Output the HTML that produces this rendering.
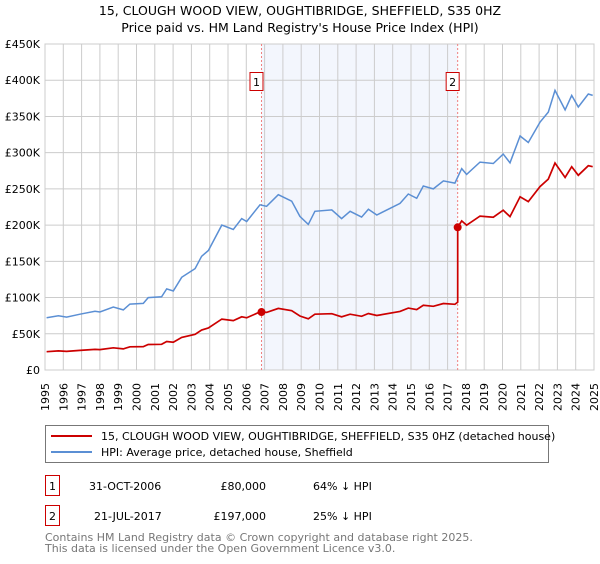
<!DOCTYPE html>
<html><head><meta charset="utf-8"><style>
body{margin:0;background:#fff;font-family:"DejaVu Sans","Liberation Sans",sans-serif;}
svg text{font-family:"DejaVu Sans","Liberation Sans",sans-serif;}
</style></head><body>
<svg id="c" width="600" height="560" xmlns="http://www.w3.org/2000/svg">
<text x="300" y="15" text-anchor="middle" font-size="12.5">15, CLOUGH WOOD VIEW, OUGHTIBRIDGE, SHEFFIELD, S35 0HZ</text>
<text x="300" y="32" text-anchor="middle" font-size="12.5">Price paid vs. HM Land Registry's House Price Index (HPI)</text>
<g id="plot"></g>
<rect x="45.5" y="425.5" width="503" height="37" fill="#fff" stroke="#777"/>
<line x1="51" y1="436" x2="92" y2="436" stroke="#cc0000" stroke-width="2"/>
<text x="101" y="440" font-size="11">15, CLOUGH WOOD VIEW, OUGHTIBRIDGE, SHEFFIELD, S35 0HZ (detached house)</text>
<line x1="51" y1="452" x2="92" y2="452" stroke="#5b8fd4" stroke-width="2"/>
<text x="101" y="456" font-size="11">HPI: Average price, detached house, Sheffield</text>
<rect x="45.5" y="475.5" width="14" height="20" fill="#fff" stroke="#cc0000"/>
<text x="52.5" y="490" text-anchor="middle" font-size="11">1</text>
<text x="89" y="490" font-size="11">31-OCT-2006</text>
<text x="266" y="490" text-anchor="end" font-size="11">£80,000</text>
<text x="313" y="490" font-size="11">64% ↓ HPI</text>
<rect x="45.5" y="505.5" width="14" height="20" fill="#fff" stroke="#cc0000"/>
<text x="52.5" y="520" text-anchor="middle" font-size="11">2</text>
<text x="94" y="520" font-size="11">21-JUL-2017</text>
<text x="266" y="520" text-anchor="end" font-size="11">£197,000</text>
<text x="313" y="520" font-size="11">25% ↓ HPI</text>
<text x="45" y="541" font-size="11" fill="#777">Contains HM Land Registry data © Crown copyright and database right 2025.</text>
<text x="45" y="552" font-size="11" fill="#777">This data is licensed under the Open Government Licence v3.0.</text>
</svg>
<script>
const hpiYears=[1995.09,1995.73,1996.18,1996.91,1997.73,1998.0,1998.73,1999.28,1999.64,2000.37,2000.64,2001.37,2001.65,2002.01,2002.47,2003.2,2003.56,2003.93,2004.66,2005.29,2005.75,2006.02,2006.75,2007.11,2007.75,2008.48,2008.93,2009.39,2009.75,2010.67,2011.21,2011.67,2012.3,2012.67,2013.13,2014.4,2014.85,2015.31,2015.67,2016.22,2016.77,2017.4,2017.77,2018.04,2018.77,2019.5,2020.04,2020.41,2020.96,2021.41,2022.05,2022.5,2022.87,2023.42,2023.78,2024.14,2024.69,2024.93];
const hpiValues=[72,75,73,77,81,80,87,83,91,92,100,101,112,109,128,140,157,165,200,194,209,205,228,226,242,233,212,201,219,221,209,219,211,222,214,230,243,237,254,250,261,258,278,270,287,285,298,286,323,314,342,356,386,359,379,363,381,379];
const saleYears=[2006.83,2017.55];
const salePrices=[80,197];
const saleLabels=["1","2"];
const yTicks=[0,50,100,150,200,250,300,350,400,450];
const yTickLabels=["£0","£50K","£100K","£150K","£200K","£250K","£300K","£350K","£400K","£450K"];
const xTickYears=[];for(let y=1995;y<=2025;y++)xTickYears.push(y);

const X0=45,X1=594,Y0=370,Y1=44;
const xs=t=>X0+(t-1995)/30*(X1-X0);
const ys=v=>Y0-v/450*(Y0-Y1);
const NS="http://www.w3.org/2000/svg";
const g=document.getElementById('plot');
function mk(tag,attrs){const e=document.createElementNS(NS,tag);for(const k in attrs)e.setAttribute(k,attrs[k]);g.appendChild(e);return e;}
function hpiAt(t){for(let i=0;i<hpiYears.length-1;i++){if(t<=hpiYears[i+1]){const f=(t-hpiYears[i])/(hpiYears[i+1]-hpiYears[i]);return hpiValues[i]+f*(hpiValues[i+1]-hpiValues[i]);}}return hpiValues[hpiValues.length-1];}

let e=mk('rect',{x:xs(saleYears[0]),y:Y1,width:xs(saleYears[1])-xs(saleYears[0]),height:Y0-Y1,fill:'#f3f6fd'});


yTicks.forEach((v,i)=>{
 let l=mk('line',{x1:X0,x2:X1,y1:ys(v),y2:ys(v),stroke:'#ccc','stroke-width':1});
 
 
 let t=mk('text',{x:40,y:ys(v)+4,'text-anchor':'end','font-size':11});
 t.textContent=yTickLabels[i];
 
 
});
xTickYears.forEach(y=>{
 let l=mk('line',{x1:xs(y),x2:xs(y),y1:Y1,y2:Y0,stroke:'#ccc','stroke-width':1});
 
 
 let t=mk('text',{x:xs(y)+4,y:383,'text-anchor':'end','font-size':11,transform:`rotate(-90 ${xs(y)+4} 383)`});
 t.textContent=y;
 
 
});
let b=mk('rect',{x:X0,y:Y1,width:X1-X0,height:Y0-Y1,fill:'none',stroke:'#ccc'});


saleYears.forEach((s,i)=>{
 let l=mk('line',{x1:xs(s),x2:xs(s),y1:Y1,y2:Y0,stroke:'#f08080','stroke-dasharray':'2,2','stroke-width':1});
 
 
});
let p=hpiYears.map((t,i)=>(i?'L':'M')+xs(t).toFixed(1)+','+ys(hpiValues[i]).toFixed(1)).join('');
let hl=mk('path',{d:p,fill:'none',stroke:'#5b8fd4','stroke-width':1.5});


const sf=saleYears.map((s,i)=>salePrices[i]/hpiAt(s));
let pts=[];
hpiYears.forEach((t,i)=>{
 if(t>saleYears[1]&&pts.length&&pts[pts.length-1][0]<saleYears[1]){
   pts.push([saleYears[1],hpiAt(saleYears[1])*sf[0]]);pts.push([saleYears[1],salePrices[1]]);}
 if(t>saleYears[0]&&pts.length&&pts[pts.length-1][0]<saleYears[0]){pts.push([saleYears[0],salePrices[0]]);}
 const k=t>saleYears[1]?1:0;
 pts.push([t,hpiValues[i]*sf[k]]);
});
let rp=pts.map((q,i)=>(i?'L':'M')+xs(q[0]).toFixed(1)+','+ys(q[1]).toFixed(1)).join('');
let rl=mk('path',{d:rp,fill:'none',stroke:'#cc0000','stroke-width':1.7});


saleYears.forEach((s,i)=>{
 let c=mk('circle',{cx:xs(s),cy:ys(salePrices[i]),r:4,fill:'#cc0000'});
 
 
 let r=mk('rect',{x:xs(s)-11.5,y:72.5,width:13,height:18,fill:'#fff',stroke:'#cc0000'});
 
 
 let t=mk('text',{x:xs(s)-5,y:86,'text-anchor':'middle','font-size':11});
 t.textContent=saleLabels[i];
 
 
});
</script>
</body></html>
